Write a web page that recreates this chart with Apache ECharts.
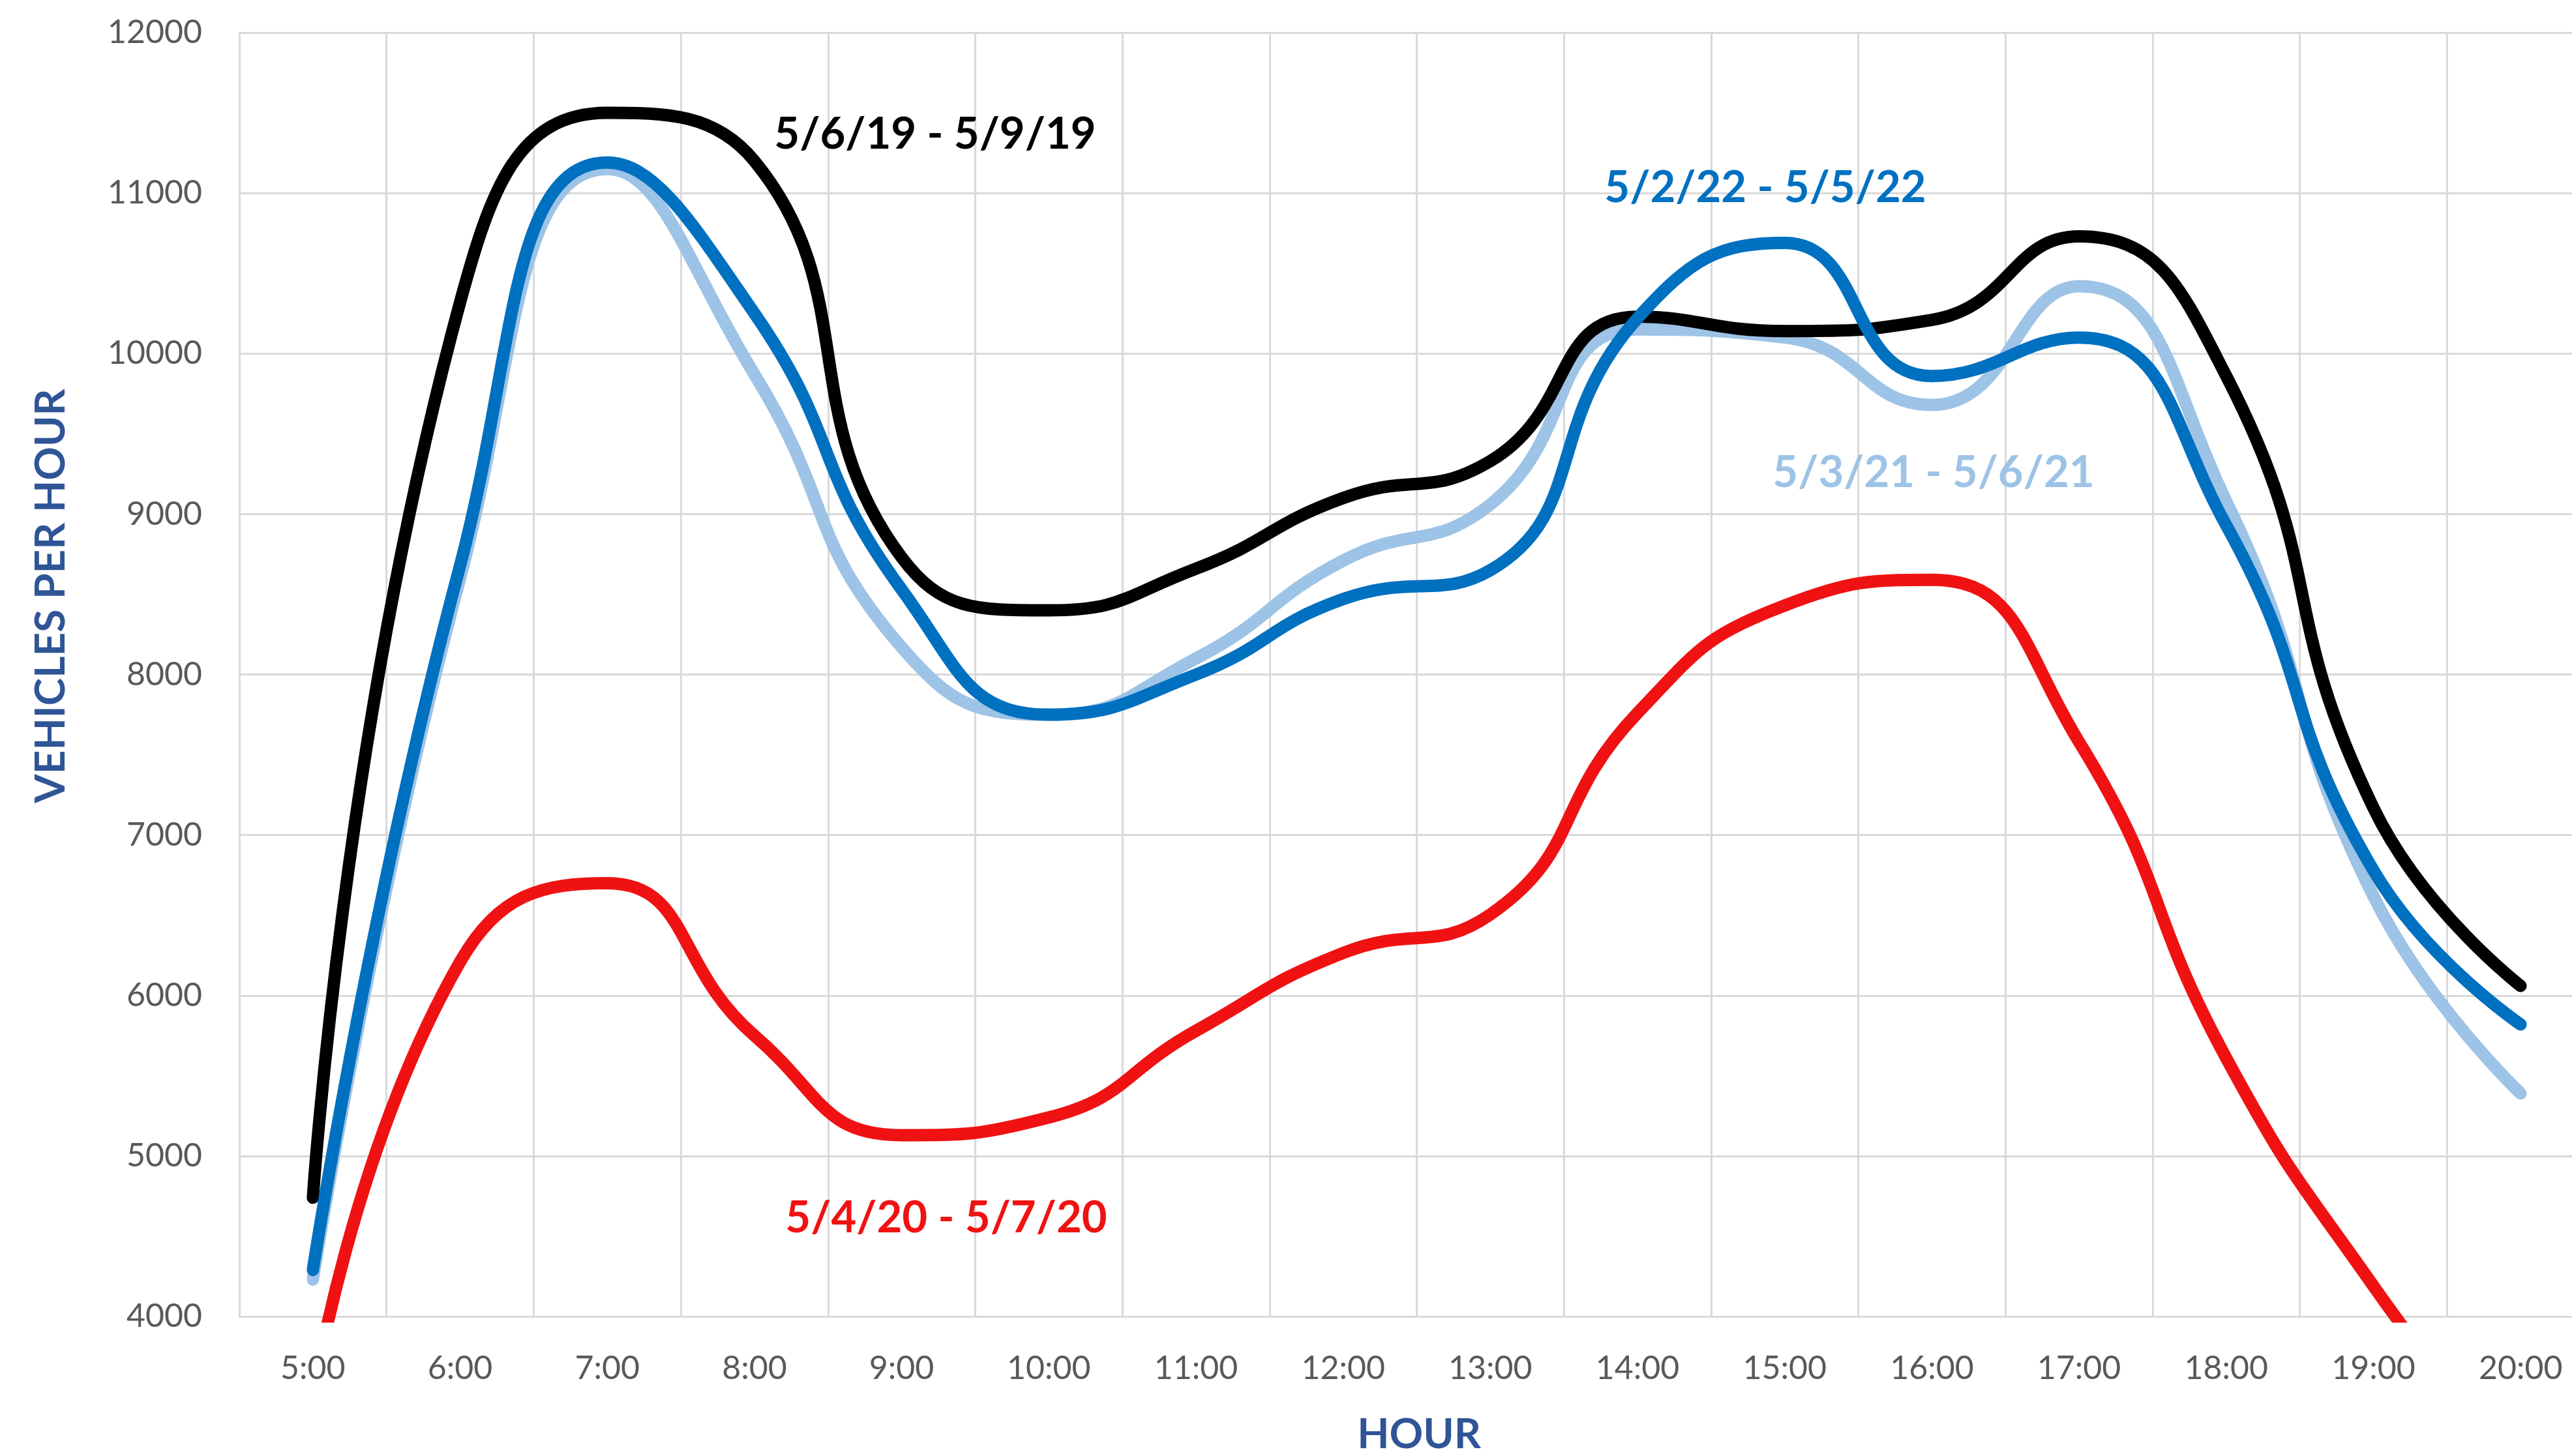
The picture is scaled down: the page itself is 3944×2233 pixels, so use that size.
<!DOCTYPE html>
<html>
<head>
<meta charset="utf-8">
<script src="https://cdn.jsdelivr.net/npm/echarts@6/dist/echarts.min.js"></script>
<style>
  html, body { margin: 0; padding: 0; background: #ffffff; overflow: hidden; width: 3944px; height: 2233px; }
  #chart { width: 4000px; height: 2233px; }
</style>
</head>
<body>
<div id="chart"></div>
<script>
// ---- data ----
const hours = ['5:00','6:00','7:00','8:00','9:00','10:00','11:00','12:00','13:00','14:00','15:00','16:00','17:00','18:00','19:00','20:00'];
const v2019 = [4740, 10320, 11500, 11200, 8730, 8400, 8660, 9100, 9330, 10230, 10140, 10210, 10730, 9860, 7170, 6060];
const v2020 = [3500, 6210, 6700, 5750, 5130, 5240, 5780, 6265, 6505, 7760, 8430, 8590, 7580, 5610, 4190, 3000];
const v2021 = [4230, 8600, 11150, 9870, 8170, 7750, 8100, 8710, 9060, 10150, 10100, 9680, 10420, 9080, 6620, 5390];
const v2022 = [4290, 8680, 11190, 10250, 8530, 7750, 8000, 8470, 8650, 10220, 10690, 9860, 10100, 8930, 6780, 5820];
const seriesNames = ['5/6/19 - 5/9/19', '5/4/20 - 5/7/20', '5/3/21 - 5/6/21', '5/2/22 - 5/5/22'];
const yTicks = { min: 4000, max: 12000, interval: 1000 };
const xTitle = 'HOUR';
const yTitle = 'VEHICLES PER HOUR';

const colors = { c2019: '#000000', c2020: '#F01212', c2021: '#9DC3E6', c2022: '#0070C0' };
const FONT = 'Lato, "Open Sans", sans-serif';
const SMOOTH = 0.5;
const LW = 19;

function lineSeries(name, data, color, z) {
  return {
    name: name, type: 'line', data: data, smooth: SMOOTH, symbol: 'none', z: z,
    clip: true,
    lineStyle: { color: color, width: LW, cap: 'round', join: 'round' },
    emphasis: { disabled: true }
  };
}

const chart = echarts.init(document.getElementById('chart'), null, { renderer: 'canvas' });
chart.setOption({
  animation: false,
  backgroundColor: '#ffffff',
  grid: { left: 367, top: 50, width: 3611, height: 1969, containLabel: false },
  xAxis: {
    type: 'category', data: hours, boundaryGap: true,
    axisLine: { show: true, lineStyle: { color: '#D9D9D9', width: 3 } },
    axisTick: { show: false },
    splitLine: { show: true, lineStyle: { color: '#D9D9D9', width: 3 } },
    axisLabel: { color: '#595959', fontFamily: FONT, fontSize: 50, lineHeight: 50, margin: 55, interval: 0 }
  },
  yAxis: {
    type: 'value', min: yTicks.min, max: yTicks.max, interval: yTicks.interval,
    axisLine: { show: true, lineStyle: { color: '#D9D9D9', width: 3 } },
    axisTick: { show: false },
    splitLine: { show: true, lineStyle: { color: '#D9D9D9', width: 3 } },
    axisLabel: { color: '#595959', fontFamily: FONT, fontSize: 50, margin: 57, formatter: v => String(v) }
  },
  series: [
    lineSeries(seriesNames[2], v2021, colors.c2021, 2),
    lineSeries(seriesNames[0], v2019, colors.c2019, 3),
    lineSeries(seriesNames[1], v2020, colors.c2020, 4),
    lineSeries(seriesNames[3], v2022, colors.c2022, 5)
  ],
  graphic: [
    { type: 'text', z: 100, x: 1434, y: 206,
      style: { text: seriesNames[0], fill: colors.c2019, font: 'bold 67px ' + FONT, textAlign: 'center', textVerticalAlign: 'middle' } },
    { type: 'text', z: 100, x: 2707, y: 288,
      style: { text: seriesNames[3], fill: colors.c2022, font: 'bold 67px ' + FONT, textAlign: 'center', textVerticalAlign: 'middle' } },
    { type: 'text', z: 100, x: 2965, y: 725,
      style: { text: seriesNames[2], fill: colors.c2021, font: 'bold 67px ' + FONT, textAlign: 'center', textVerticalAlign: 'middle' } },
    { type: 'text', z: 100, x: 1451, y: 1868,
      style: { text: seriesNames[1], fill: colors.c2020, font: 'bold 67px ' + FONT, textAlign: 'center', textVerticalAlign: 'middle' } },
    { type: 'text', z: 100, x: 2176, y: 2200,
      style: { text: xTitle, fill: '#2F5597', font: 'bold 64px ' + FONT, textAlign: 'center', textVerticalAlign: 'middle' } },
    { type: 'text', z: 100, x: 78, y: 914, rotation: Math.PI / 2,
      style: { text: yTitle, fill: '#2F5597', font: 'bold 64px ' + FONT, textAlign: 'center', textVerticalAlign: 'middle' } }
  ]
});
</script>
</body>
</html>
